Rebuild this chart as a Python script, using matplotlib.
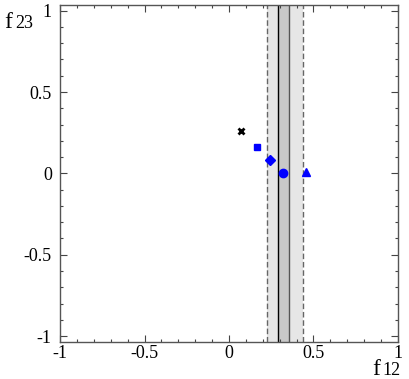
import numpy as np
import matplotlib
matplotlib.use("Agg")
import matplotlib.pyplot as plt
from matplotlib.ticker import MultipleLocator

plt.rcParams["font.family"] = ["Liberation Serif", "DejaVu Serif"]
plt.rcParams["axes.unicode_minus"] = False

# outer (dashed) and inner (solid) bands along f12
outer_band = [0.225, 0.44]
inner_band = [0.288, 0.355]

# benchmark points (f12, f23)
pt_names = ["cross", "square", "diamond", "circle", "triangle"]
pt_x = [0.071, 0.166, 0.24, 0.318, 0.457]
pt_y = [0.263, 0.165, 0.083, 0.005, 0.01]
pt_marker = ["x", "s", "D", "o", "^"]
pt_color = ["black", "#0000ff", "#0000ff", "#0000ff", "#0000ff"]
pt_size = [4.5, 5, 5, 6, 5.5]

xticks = [-1, -0.5, 0, 0.5, 1]
xlabels = ["-1", "-0.5", "0", "0.5", "1"]
yticks = [-1, -0.5, 0, 0.5, 1]
ylabels = ["-1", "-0.5", "0", "0.5", "1"]

fig = plt.figure(figsize=(4.09, 3.79), dpi=100)
ax = fig.add_axes([0.147, 0.098, 0.826, 0.889])

ax.axvspan(outer_band[0], outer_band[1], color="#e6e6e6", lw=0, zorder=0)
ax.axvspan(inner_band[0], inner_band[1], color="#c8c8c8", lw=0, zorder=0)
for xv in outer_band:
    ax.axvline(xv, color="#666666", ls=(0, (4, 2)), lw=1, zorder=1)
ax.axvline(inner_band[0], color="black", lw=1, zorder=1)
ax.axvline(inner_band[1], color="#555555", lw=1, zorder=1)

for x, y, m, c, s in zip(pt_x, pt_y, pt_marker, pt_color, pt_size):
    if m == "x":
        ax.plot(x, y, marker=m, color=c, ms=s, mew=2, ls="none", zorder=3)
    else:
        ax.plot(x, y, marker=m, color=c, ms=s, mec=c, ls="none", zorder=3)

ax.set_xlim(-1, 1)
ax.set_ylim(-1.035, 1.035)
ax.set_xticks(xticks)
ax.set_xticklabels(xlabels)
ax.set_yticks(yticks)
ax.set_yticklabels(ylabels)
ax.xaxis.set_minor_locator(MultipleLocator(0.1))
ax.yaxis.set_minor_locator(MultipleLocator(0.1))
ax.tick_params(which="both", direction="in", top=True, right=True,
               labelsize=13, width=0.8, color="#444444")
ax.tick_params(axis="y", pad=6)
ax.tick_params(axis="x", pad=2)
ax.tick_params(which="major", length=5)
ax.tick_params(which="minor", length=2.5)
for sp in ax.spines.values():
    sp.set_color("#555555")
    sp.set_linewidth(1)

fig.text(0.910, 0.010, "f", fontsize=17, ha="left", va="baseline")
fig.text(0.936, 0.010, "12", fontsize=13, ha="left", va="baseline")
fig.text(0.010, 0.926, "f", fontsize=17, ha="left", va="baseline")
fig.text(0.037, 0.926, "23", fontsize=13, ha="left", va="baseline")

fig.savefig("out.png", dpi=100)
